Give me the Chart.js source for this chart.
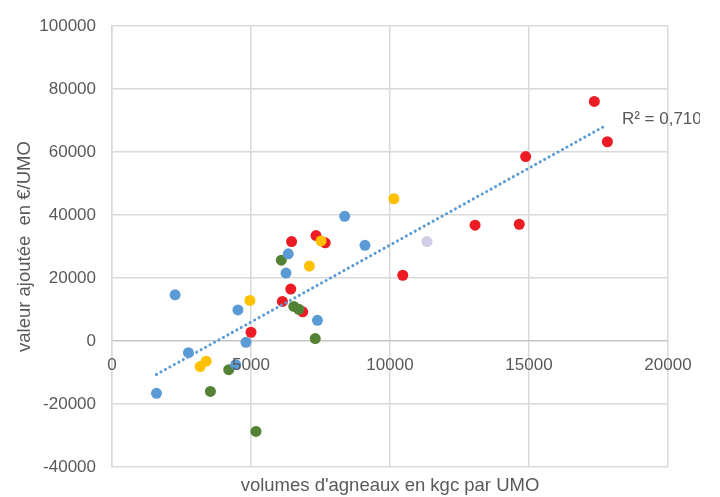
<!DOCTYPE html>
<html>
<head>
<meta charset="utf-8">
<script src="https://cdn.jsdelivr.net/npm/chart.js@4/dist/chart.umd.min.js"></script>
<style>
  html, body { margin: 0; padding: 0; background: #fff; }
  #wrap { width: 720px; height: 497px; }
</style>
</head>
<body>
<div id="wrap"><canvas id="myChart"></canvas></div>
<script>
// values: x = kgc par UMO, y = valeur ajoutée €/UMO
var blueX = [8370, 6340, 6260, 2270, 4530, 7390, 4820, 2750, 4450, 1600, 9100];
var blueY = [39600, 27700, 21600, 14700, 9900, 6600, -400, -3700, -7500, -16600, 30400];
var redX = [7340, 7670, 6460, 6430, 6130, 6860, 5000, 10460, 13060, 14650, 14880, 17350, 17820];
var redY = [33500, 31200, 31600, 16500, 12600, 9300, 2800, 20900, 36800, 37100, 58600, 76100, 63300];
var yellowX = [7520, 7100, 4960, 3170, 3390, 10140];
var yellowY = [31800, 23800, 12900, -8100, -6400, 45200];
var greenX = [6090, 6540, 6720, 7310, 4200, 3540, 5180];
var greenY = [25700, 11000, 10100, 800, -9100, -16000, -28700];
var lilacX = [11330];
var lilacY = [31600];
// linear trend line ends
var trendX = [1600, 17730];
var trendY = [-10600, 68300];
var r2Label = 'R\u00b2 = 0,7103';
var xTicks = [0, 5000, 10000, 15000, 20000];

function pts(xs, ys) {
    return xs.map(function (v, i) { return {x: v, y: ys[i]}; });
}

var txt = '#595959';

// x tick labels sit under the y = 0 line, like the spreadsheet original
var labelsPlugin = {
    id: 'labels',
    afterDatasetsDraw: function (chart) {
        var ctx = chart.ctx, x = chart.scales.x, y = chart.scales.y;
        var y0 = y.getPixelForValue(0);
        ctx.save();
        ctx.font = '17px "Liberation Sans", Arial, sans-serif';
        ctx.fillStyle = txt;
        ctx.textAlign = 'center';
        ctx.textBaseline = 'middle';
        xTicks.forEach(function (v) {
            ctx.fillText(String(v), x.getPixelForValue(v), y0 + 24);
        });
        // R² text next to the end of the trend line (cut at the picture edge)
        var ex = x.getPixelForValue(trendX[1]), ey = y.getPixelForValue(trendY[1]);
        ctx.beginPath();
        ctx.rect(0, 0, 700, chart.height);
        ctx.clip();
        ctx.textAlign = 'left';
        ctx.fillText(r2Label, ex + 17, ey - 7);
        ctx.restore();
    }
};

var ctx = document.getElementById('myChart').getContext('2d');
var chart = new Chart(ctx, {
    type: 'scatter',
    data: {
        datasets: [{
            label: 'tendance',
            type: 'line',
            data: pts(trendX, trendY),
            borderColor: '#5B9BD5',
            borderWidth: 3,
            borderDash: [0.1, 5],
            borderCapStyle: 'round',
            pointRadius: 0,
            fill: false,
            order: 0
        }, {
            label: 'bleu',
            data: pts(blueX, blueY),
            backgroundColor: '#5B9BD5',
            order: 1
        }, {
            label: 'jaune',
            data: pts(yellowX, yellowY),
            backgroundColor: '#FFC000',
            order: 2
        }, {
            label: 'vert',
            data: pts(greenX, greenY),
            backgroundColor: '#548235',
            order: 3
        }, {
            label: 'rouge',
            data: pts(redX, redY),
            backgroundColor: '#ED1C24',
            order: 4
        }, {
            label: 'lilas',
            data: pts(lilacX, lilacY),
            backgroundColor: '#D0CEE6',
            order: 5
        }]
    },
    options: {
        responsive: true,
        maintainAspectRatio: false,
        animation: false,
        elements: {
            point: { radius: 5.5, borderWidth: 0, hoverRadius: 5.5 }
        },
        layout: { padding: { top: 13, right: 52, bottom: 0, left: 0 } },
        plugins: {
            legend: { display: false },
            tooltip: { enabled: false }
        },
        scales: {
            x: {
                type: 'linear',
                min: 0,
                max: 20000,
                ticks: { stepSize: 5000, display: false },
                grid: { color: '#D9D9D9', lineWidth: 1.5, drawTicks: false },
                border: { display: false },
                title: {
                    display: true,
                    text: "volumes d'agneaux en kgc par UMO",
                    color: txt,
                    font: { family: '"Liberation Sans", Arial, sans-serif', size: 18.5 },
                    padding: { top: 4, bottom: 0 }
                },
                afterFit: function (s) { s.height = 30; }
            },
            y: {
                min: -40000,
                max: 100000,
                ticks: {
                    stepSize: 20000,
                    color: txt,
                    padding: 16,
                    font: { family: '"Liberation Sans", Arial, sans-serif', size: 17 },
                    callback: function (v) { return String(v); }
                },
                grid: {
                    color: function (c) { return c.tick && c.tick.value === 0 ? '#C6C6C6' : '#D9D9D9'; },
                    lineWidth: 1.5,
                    drawTicks: false
                },
                border: { color: '#D9D9D9', width: 1.5 },
                title: {
                    display: true,
                    text: 'valeur ajout\u00e9e  en \u20ac/UMO',
                    color: txt,
                    font: { family: '"Liberation Sans", Arial, sans-serif', size: 18.5 },
                    padding: { top: 14, bottom: 0 }
                },
                afterFit: function (s) { s.width = 112; }
            }
        }
    },
    plugins: [labelsPlugin]
});
</script>
</body>
</html>
